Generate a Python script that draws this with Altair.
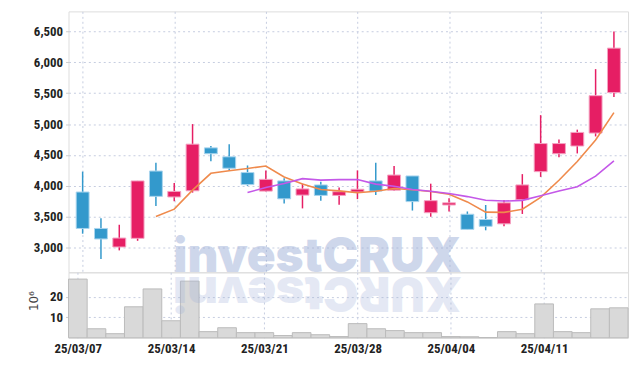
import json
import altair as alt
import pandas as pd

dates = ["25/03/07", "25/03/10", "25/03/11", "25/03/12", "25/03/13", "25/03/14",
         "25/03/17", "25/03/18", "25/03/19", "25/03/20", "25/03/21",
         "25/03/24", "25/03/25", "25/03/26", "25/03/27", "25/03/28",
         "25/03/31", "25/04/01", "25/04/02", "25/04/03", "25/04/04",
         "25/04/07", "25/04/08", "25/04/09", "25/04/10", "25/04/11",
         "25/04/14", "25/04/15", "25/04/16", "25/04/17"]
opens = [3900, 3310, 3010, 3150, 4240, 3820, 3920, 4615, 4470, 4215,
         3915, 4080, 3850, 4015, 3845, 3900, 4080, 3930, 4160, 3565,
         3690, 3540, 3455, 3385, 3775, 4230, 4520, 4645, 4855, 5510]
closes = [3310, 3140, 3155, 4080, 3830, 3910, 4675, 4520, 4285, 4020,
          4105, 3790, 3950, 3845, 3905, 3945, 3915, 4175, 3745, 3760,
          3725, 3295, 3345, 3725, 4015, 4685, 4685, 4865, 5460, 6230]
highs = [4230, 3475, 3370, 4080, 4375, 4045, 5000, 4645, 4675, 4330,
         4250, 4125, 4035, 4065, 3975, 4250, 4375, 4320, 4160, 4035,
         3800, 3585, 3690, 3770, 4190, 5145, 4750, 4910, 5890, 6500]
lows = [3225, 2815, 2955, 3110, 3675, 3750, 3890, 4400, 4250, 4000,
        3910, 3715, 3635, 3760, 3695, 3785, 3850, 3920, 3600, 3500,
        3585, 3295, 3280, 3345, 3545, 4145, 4465, 4525, 4800, 5440]
volumes = [28.6, 4.4, 2.0, 15.1, 23.8, 8.3, 27.6, 3.0, 4.9, 2.5,
           2.5, 1.1, 2.5, 1.5, 0.6, 6.9, 4.4, 3.5, 2.5, 2.5,
           0.6, 0.5, 0.1, 3.0, 2.0, 16.5, 3.0, 2.5, 14.1, 14.6]
tick_idx = [0, 5, 10, 15, 20, 25]
price_ticks = [3000, 3500, 4000, 4500, 5000, 5500, 6000, 6500]
vol_ticks = [10, 20]

RED = "#E61E64"
RED_EDGE = "#F4A3C2"
BLUE = "#3399CC"
BLUE_EDGE = "#A9D5EE"
ORANGE = "#EF8A4C"
PURPLE = "#C458E8"
GRID = "#C5CCE0"
FONT = "Liberation Sans Narrow, Roboto Condensed, DejaVu Sans Condensed, Roboto, sans-serif"
WM_FONT = "Inter, Roboto, Liberation Sans, sans-serif"

df = pd.DataFrame({"i": list(range(len(dates))), "date": dates, "open": opens,
                   "close": closes, "high": highs, "low": lows, "vol": volumes})

W = 564
H_TOP = 263
H_BOT = 66

xscale = alt.Scale(domain=[-0.5, len(dates) - 0.5], nice=False, zero=False)
yscale = alt.Scale(domain=[2600, 6825], nice=False, zero=False)
up = "datum.close >= datum.open"

top_x_axis = alt.Axis(values=tick_idx, labels=False, ticks=False, domain=False,
                      grid=True, gridColor=GRID, gridDash=[2, 3], title=None)
y_axis = alt.Axis(values=price_ticks, format=",.0f", title=None, domain=False,
                  grid=True, gridColor=GRID, gridDash=[2, 3],
                  tickColor="#cccccc", tickSize=3, labelPadding=3,
                  labelFont=FONT, labelFontSize=13, labelFontWeight="bold",
                  labelColor="#222222")

base = alt.Chart(df)
wm = alt.Chart(pd.DataFrame({"t": ["investCRUX"]}))

watermark = wm.mark_text(font=WM_FONT, fontWeight=900, fontSize=48,
                         color="#9FB0D8", opacity=0.5, align="center",
                         baseline="alphabetic").encode(
    text="t:N", x=alt.value(251), y=alt.value(262.5))

wicks = base.mark_rule(strokeWidth=1.5).encode(
    x=alt.X("i:Q", scale=xscale, axis=top_x_axis),
    y=alt.Y("low:Q", scale=yscale, axis=y_axis),
    y2="high:Q",
    color=alt.condition(up, alt.value(RED), alt.value(BLUE)))

bodies = base.mark_bar(size=13, strokeWidth=1).encode(
    x=alt.X("i:Q", scale=xscale, axis=top_x_axis),
    y=alt.Y("open:Q", scale=yscale, axis=y_axis),
    y2="close:Q",
    color=alt.condition(up, alt.value(RED), alt.value(BLUE)),
    stroke=alt.condition(up, alt.value(RED_EDGE), alt.value(BLUE_EDGE)))

ma5 = base.transform_window(
    ma="mean(close)", cnt="count()", frame=[-4, 0], sort=[alt.SortField("i")]
).transform_filter("datum.cnt >= 5").mark_line(color=ORANGE, strokeWidth=1.6).encode(
    x=alt.X("i:Q", scale=xscale, axis=top_x_axis),
    y=alt.Y("ma:Q", scale=yscale, axis=y_axis))

ma10 = base.transform_window(
    ma="mean(close)", cnt="count()", frame=[-9, 0], sort=[alt.SortField("i")]
).transform_filter("datum.cnt >= 10").mark_line(color=PURPLE, strokeWidth=1.6).encode(
    x=alt.X("i:Q", scale=xscale, axis=top_x_axis),
    y=alt.Y("ma:Q", scale=yscale, axis=y_axis))

top = alt.layer(watermark, wicks, bodies, ma5, ma10).properties(width=W, height=H_TOP)

bot_x_axis = alt.Axis(values=tick_idx, labelExpr=json.dumps(dates) + "[datum.value]",
                      ticks=False, domain=False, grid=True, gridColor=GRID,
                      gridDash=[2, 3], title=None, labelPadding=5,
                      labelFont=FONT, labelFontSize=13, labelFontWeight="bold",
                      labelColor="#222222")
vol_axis = alt.Axis(values=vol_ticks, format=".0f", title=None, domain=False, grid=True,
                    gridColor=GRID, gridDash=[2, 3], tickColor="#cccccc",
                    tickSize=3, labelPadding=3, labelFont=FONT, labelFontSize=13,
                    labelFontWeight="bold", labelColor="#222222")

vbars = base.transform_calculate(x0="datum.i - 0.5", x1="datum.i + 0.5").mark_rect(
    color="#D9D9D9", stroke="#BBBBBB", strokeWidth=1).encode(
    x=alt.X("x0:Q", scale=xscale, axis=bot_x_axis),
    x2="x1:Q",
    y=alt.Y("vol:Q", scale=alt.Scale(domain=[0, 31.9], nice=False), axis=vol_axis),
    y2=alt.datum(0))

reflection = wm.transform_calculate(r="'XURCtsevni'").mark_text(
    font=WM_FONT, fontWeight=900, fontSize=48, color="#9FB0D8",
    opacity=0.28, align="center", baseline="alphabetic", angle=180).encode(
    text="r:N", x=alt.value(251), y=alt.value(4.5))

unit = wm.transform_calculate(u="'10⁶'").mark_text(
    font="DejaVu Sans", fontSize=12, color="#444444", align="center",
    baseline="middle", angle=270).encode(
    text="u:N", x=alt.value(-35), y=alt.value(29))

bottom = alt.layer(vbars, reflection, unit).properties(width=W, height=H_BOT)

chart = alt.vconcat(top, bottom, spacing=0, bounds="flush").properties(
    padding={"left": 19, "top": 1, "right": 5, "bottom": 5}
).configure_view(stroke="#CCCCCC", strokeWidth=1).configure(background="white")

chart.save("out.html", embed_options={"renderer": "svg", "actions": False})
